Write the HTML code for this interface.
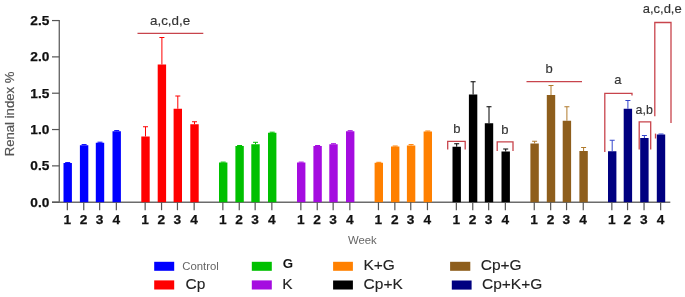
<!DOCTYPE html>
<html><head><meta charset="utf-8"><title>Renal index</title>
<style>
html,body{margin:0;padding:0;background:#fff;}
body{width:685px;height:297px;overflow:hidden;}
svg{display:block;filter:blur(0.55px);}
text{font-family:"Liberation Sans",Arial,sans-serif;}
.tl{font-size:13.7px;font-weight:bold;fill:#111;stroke:#111;stroke-width:0.25;}
.an{font-size:13px;fill:#333;stroke:#333;stroke-width:0.15;}
.lg{font-size:15.5px;fill:#222;stroke:#222;stroke-width:0.12;}
.sm{font-size:11.35px;fill:#666;}
</style></head><body>
<svg width="685" height="297" viewBox="0 0 685 297">
<rect width="685" height="297" fill="#fff"/>
<!-- axes -->
<path d="M59.3 20V202.2" stroke="#6c6c6c" stroke-width="1.4" fill="none"/>
<path d="M52 202.2H670.3" stroke="#6c6c6c" stroke-width="1.4" fill="none"/>
<path d="M52 202.20H59.3" stroke="#555" stroke-width="1.2"/>
<text x="49.3" y="206.55" class="tl" text-anchor="end">0.0</text>
<path d="M52 165.87H59.3" stroke="#555" stroke-width="1.2"/>
<text x="49.3" y="170.22" class="tl" text-anchor="end">0.5</text>
<path d="M52 129.54H59.3" stroke="#555" stroke-width="1.2"/>
<text x="49.3" y="133.89" class="tl" text-anchor="end">1.0</text>
<path d="M52 93.21H59.3" stroke="#555" stroke-width="1.2"/>
<text x="49.3" y="97.56" class="tl" text-anchor="end">1.5</text>
<path d="M52 56.88H59.3" stroke="#555" stroke-width="1.2"/>
<text x="49.3" y="61.23" class="tl" text-anchor="end">2.0</text>
<path d="M52 20.55H59.3" stroke="#555" stroke-width="1.2"/>
<text x="49.3" y="24.90" class="tl" text-anchor="end">2.5</text>
<text class="ylab" transform="translate(14.2 156.3) rotate(-90)" font-size="13.15" fill="#555" stroke="#555" stroke-width="0.2">Renal index %</text>
<rect x="63.50" y="163.00" width="8.4" height="39.20" fill="#0000ff"/>
<path d="M67.70 163.00V162.60M65.20 162.60H70.20" stroke="#0000ff" stroke-width="1.0" fill="none"/>
<path d="M67.35 202.2V210.2" stroke="#555" stroke-width="1.2"/>
<text x="67.20" y="224.2" class="tl" text-anchor="middle">1</text>
<rect x="79.90" y="145.25" width="8.4" height="56.95" fill="#0000ff"/>
<path d="M84.10 145.25V144.60M81.60 144.60H86.60" stroke="#0000ff" stroke-width="1.0" fill="none"/>
<path d="M83.75 202.2V210.2" stroke="#555" stroke-width="1.2"/>
<text x="83.60" y="224.2" class="tl" text-anchor="middle">2</text>
<rect x="95.80" y="142.75" width="8.4" height="59.45" fill="#0000ff"/>
<path d="M100.00 142.75V142.20M97.50 142.20H102.50" stroke="#0000ff" stroke-width="1.0" fill="none"/>
<path d="M99.65 202.2V210.2" stroke="#555" stroke-width="1.2"/>
<text x="99.50" y="224.2" class="tl" text-anchor="middle">3</text>
<rect x="112.50" y="131.25" width="8.4" height="70.95" fill="#0000ff"/>
<path d="M116.70 131.25V130.60M114.20 130.60H119.20" stroke="#0000ff" stroke-width="1.0" fill="none"/>
<path d="M116.35 202.2V210.2" stroke="#555" stroke-width="1.2"/>
<text x="116.20" y="224.2" class="tl" text-anchor="middle">4</text>
<rect x="141.30" y="136.50" width="8.4" height="65.70" fill="#ff0000"/>
<path d="M145.50 136.50V126.75M143.00 126.75H148.00" stroke="#ff0000" stroke-width="1.0" fill="none"/>
<path d="M145.15 202.2V210.2" stroke="#555" stroke-width="1.2"/>
<text x="145.00" y="224.2" class="tl" text-anchor="middle">1</text>
<rect x="157.70" y="64.50" width="8.4" height="137.70" fill="#ff0000"/>
<path d="M161.90 64.50V37.50M159.40 37.50H164.40" stroke="#ff0000" stroke-width="1.0" fill="none"/>
<path d="M161.55 202.2V210.2" stroke="#555" stroke-width="1.2"/>
<text x="161.40" y="224.2" class="tl" text-anchor="middle">2</text>
<rect x="173.60" y="108.75" width="8.4" height="93.45" fill="#ff0000"/>
<path d="M177.80 108.75V96.00M175.30 96.00H180.30" stroke="#ff0000" stroke-width="1.0" fill="none"/>
<path d="M177.45 202.2V210.2" stroke="#555" stroke-width="1.2"/>
<text x="177.30" y="224.2" class="tl" text-anchor="middle">3</text>
<rect x="190.30" y="124.25" width="8.4" height="77.95" fill="#ff0000"/>
<path d="M194.50 124.25V121.75M192.00 121.75H197.00" stroke="#ff0000" stroke-width="1.0" fill="none"/>
<path d="M194.15 202.2V210.2" stroke="#555" stroke-width="1.2"/>
<text x="194.00" y="224.2" class="tl" text-anchor="middle">4</text>
<rect x="219.00" y="162.50" width="8.4" height="39.70" fill="#00c000"/>
<path d="M223.20 162.50V162.10M220.70 162.10H225.70" stroke="#00c000" stroke-width="1.0" fill="none"/>
<path d="M222.85 202.2V210.2" stroke="#555" stroke-width="1.2"/>
<text x="222.70" y="224.2" class="tl" text-anchor="middle">1</text>
<rect x="235.40" y="146.00" width="8.4" height="56.20" fill="#00c000"/>
<path d="M239.60 146.00V145.50M237.10 145.50H242.10" stroke="#00c000" stroke-width="1.0" fill="none"/>
<path d="M239.25 202.2V210.2" stroke="#555" stroke-width="1.2"/>
<text x="239.10" y="224.2" class="tl" text-anchor="middle">2</text>
<rect x="251.30" y="144.25" width="8.4" height="57.95" fill="#00c000"/>
<path d="M255.50 144.25V142.30M253.00 142.30H258.00" stroke="#00c000" stroke-width="1.0" fill="none"/>
<path d="M255.15 202.2V210.2" stroke="#555" stroke-width="1.2"/>
<text x="255.00" y="224.2" class="tl" text-anchor="middle">3</text>
<rect x="268.00" y="132.75" width="8.4" height="69.45" fill="#00c000"/>
<path d="M272.20 132.75V132.20M269.70 132.20H274.70" stroke="#00c000" stroke-width="1.0" fill="none"/>
<path d="M271.85 202.2V210.2" stroke="#555" stroke-width="1.2"/>
<text x="271.70" y="224.2" class="tl" text-anchor="middle">4</text>
<rect x="297.00" y="162.50" width="8.4" height="39.70" fill="#a50ce0"/>
<path d="M301.20 162.50V162.10M298.70 162.10H303.70" stroke="#a50ce0" stroke-width="1.0" fill="none"/>
<path d="M300.85 202.2V210.2" stroke="#555" stroke-width="1.2"/>
<text x="300.70" y="224.2" class="tl" text-anchor="middle">1</text>
<rect x="313.40" y="146.00" width="8.4" height="56.20" fill="#a50ce0"/>
<path d="M317.60 146.00V145.50M315.10 145.50H320.10" stroke="#a50ce0" stroke-width="1.0" fill="none"/>
<path d="M317.25 202.2V210.2" stroke="#555" stroke-width="1.2"/>
<text x="317.10" y="224.2" class="tl" text-anchor="middle">2</text>
<rect x="329.30" y="144.25" width="8.4" height="57.95" fill="#a50ce0"/>
<path d="M333.50 144.25V143.70M331.00 143.70H336.00" stroke="#a50ce0" stroke-width="1.0" fill="none"/>
<path d="M333.15 202.2V210.2" stroke="#555" stroke-width="1.2"/>
<text x="333.00" y="224.2" class="tl" text-anchor="middle">3</text>
<rect x="346.00" y="131.25" width="8.4" height="70.95" fill="#a50ce0"/>
<path d="M350.20 131.25V130.70M347.70 130.70H352.70" stroke="#a50ce0" stroke-width="1.0" fill="none"/>
<path d="M349.85 202.2V210.2" stroke="#555" stroke-width="1.2"/>
<text x="349.70" y="224.2" class="tl" text-anchor="middle">4</text>
<rect x="374.60" y="162.75" width="8.4" height="39.45" fill="#ff8000"/>
<path d="M378.80 162.75V162.30M376.30 162.30H381.30" stroke="#ff8000" stroke-width="1.0" fill="none"/>
<path d="M378.45 202.2V210.2" stroke="#555" stroke-width="1.2"/>
<text x="378.30" y="224.2" class="tl" text-anchor="middle">1</text>
<rect x="391.00" y="146.50" width="8.4" height="55.70" fill="#ff8000"/>
<path d="M395.20 146.50V146.00M392.70 146.00H397.70" stroke="#ff8000" stroke-width="1.0" fill="none"/>
<path d="M394.85 202.2V210.2" stroke="#555" stroke-width="1.2"/>
<text x="394.70" y="224.2" class="tl" text-anchor="middle">2</text>
<rect x="406.90" y="145.50" width="8.4" height="56.70" fill="#ff8000"/>
<path d="M411.10 145.50V144.60M408.60 144.60H413.60" stroke="#ff8000" stroke-width="1.0" fill="none"/>
<path d="M410.75 202.2V210.2" stroke="#555" stroke-width="1.2"/>
<text x="410.60" y="224.2" class="tl" text-anchor="middle">3</text>
<rect x="423.60" y="131.50" width="8.4" height="70.70" fill="#ff8000"/>
<path d="M427.80 131.50V131.00M425.30 131.00H430.30" stroke="#ff8000" stroke-width="1.0" fill="none"/>
<path d="M427.45 202.2V210.2" stroke="#555" stroke-width="1.2"/>
<text x="427.30" y="224.2" class="tl" text-anchor="middle">4</text>
<rect x="452.50" y="146.75" width="8.4" height="55.45" fill="#000000"/>
<path d="M456.70 146.75V143.75M454.20 143.75H459.20" stroke="#000000" stroke-width="1.0" fill="none"/>
<path d="M456.35 202.2V210.2" stroke="#555" stroke-width="1.2"/>
<text x="456.20" y="224.2" class="tl" text-anchor="middle">1</text>
<rect x="468.90" y="94.50" width="8.4" height="107.70" fill="#000000"/>
<path d="M473.10 94.50V81.75M470.60 81.75H475.60" stroke="#000000" stroke-width="1.0" fill="none"/>
<path d="M472.75 202.2V210.2" stroke="#555" stroke-width="1.2"/>
<text x="472.60" y="224.2" class="tl" text-anchor="middle">2</text>
<rect x="484.80" y="123.25" width="8.4" height="78.95" fill="#000000"/>
<path d="M489.00 123.25V106.75M486.50 106.75H491.50" stroke="#000000" stroke-width="1.0" fill="none"/>
<path d="M488.65 202.2V210.2" stroke="#555" stroke-width="1.2"/>
<text x="488.50" y="224.2" class="tl" text-anchor="middle">3</text>
<rect x="501.50" y="151.50" width="8.4" height="50.70" fill="#000000"/>
<path d="M505.70 151.50V149.00M503.20 149.00H508.20" stroke="#000000" stroke-width="1.0" fill="none"/>
<path d="M505.35 202.2V210.2" stroke="#555" stroke-width="1.2"/>
<text x="505.20" y="224.2" class="tl" text-anchor="middle">4</text>
<rect x="530.40" y="143.50" width="8.4" height="58.70" fill="#8e5e1c"/>
<path d="M534.60 143.50V141.25M532.10 141.25H537.10" stroke="#b07a2c" stroke-width="1.0" fill="none"/>
<path d="M534.25 202.2V210.2" stroke="#555" stroke-width="1.2"/>
<text x="534.10" y="224.2" class="tl" text-anchor="middle">1</text>
<rect x="546.80" y="95.00" width="8.4" height="107.20" fill="#8e5e1c"/>
<path d="M551.00 95.00V85.50M548.50 85.50H553.50" stroke="#b07a2c" stroke-width="1.0" fill="none"/>
<path d="M550.65 202.2V210.2" stroke="#555" stroke-width="1.2"/>
<text x="550.50" y="224.2" class="tl" text-anchor="middle">2</text>
<rect x="562.70" y="120.75" width="8.4" height="81.45" fill="#8e5e1c"/>
<path d="M566.90 120.75V106.75M564.40 106.75H569.40" stroke="#b07a2c" stroke-width="1.0" fill="none"/>
<path d="M566.55 202.2V210.2" stroke="#555" stroke-width="1.2"/>
<text x="566.40" y="224.2" class="tl" text-anchor="middle">3</text>
<rect x="579.40" y="151.00" width="8.4" height="51.20" fill="#8e5e1c"/>
<path d="M583.60 151.00V147.50M581.10 147.50H586.10" stroke="#b07a2c" stroke-width="1.0" fill="none"/>
<path d="M583.25 202.2V210.2" stroke="#555" stroke-width="1.2"/>
<text x="583.10" y="224.2" class="tl" text-anchor="middle">4</text>
<rect x="608.00" y="151.25" width="8.4" height="50.95" fill="#000080"/>
<path d="M612.20 151.25V140.25M609.70 140.25H614.70" stroke="#3344cc" stroke-width="1.0" fill="none"/>
<path d="M611.85 202.2V210.2" stroke="#555" stroke-width="1.2"/>
<text x="611.70" y="224.2" class="tl" text-anchor="middle">1</text>
<rect x="623.70" y="108.75" width="8.4" height="93.45" fill="#000080"/>
<path d="M627.90 108.75V100.50M625.40 100.50H630.40" stroke="#3344cc" stroke-width="1.0" fill="none"/>
<path d="M627.55 202.2V210.2" stroke="#555" stroke-width="1.2"/>
<text x="627.40" y="224.2" class="tl" text-anchor="middle">2</text>
<rect x="640.20" y="138.00" width="8.4" height="64.20" fill="#000080"/>
<path d="M644.40 138.00V135.50M641.90 135.50H646.90" stroke="#3344cc" stroke-width="1.0" fill="none"/>
<path d="M644.05 202.2V210.2" stroke="#555" stroke-width="1.2"/>
<text x="643.90" y="224.2" class="tl" text-anchor="middle">3</text>
<rect x="656.80" y="134.50" width="8.4" height="67.70" fill="#000080"/>
<path d="M661.00 134.50V134.00M658.50 134.00H663.50" stroke="#3344cc" stroke-width="1.0" fill="none"/>
<path d="M660.65 202.2V210.2" stroke="#555" stroke-width="1.2"/>
<text x="660.50" y="224.2" class="tl" text-anchor="middle">4</text>
<!-- annotations -->
<g stroke="#c8444c" stroke-width="1.3" fill="none">
<path d="M137.5 33.3H203.3"/>
<path d="M447.7 149.5V141.4H465.2V149.5"/>
<path d="M497.2 151V141.8H513V151"/>
<path d="M526.5 81.6H582"/>
<path d="M604.8 152V93.3H632V95.5"/>
<path d="M639.2 149.5V121.8H650.7V149.5"/>
<path d="M654.8 116.3V22.5H671V123"/>
<path d="M655.5 133.6V138.5"/>
</g>
<text class="an" x="150" y="25.2" style="font-size:13.4px">a,c,d,e</text>
<text class="an" x="453.2" y="132.8">b</text>
<text class="an" x="501.2" y="134.2">b</text>
<text class="an" x="545.6" y="73">b</text>
<text class="an" x="614.3" y="84.2">a</text>
<text class="an" x="635.6" y="113.8" textLength="17.2" lengthAdjust="spacingAndGlyphs">a,b</text>
<text class="an" x="642.7" y="13.2">a,c,d,e</text>
<text class="sm" x="348" y="244">Week</text>
<!-- legend -->
<rect x="154.2" y="261.8" width="20" height="9" fill="#0000ff"/>
<rect x="154.2" y="280.4" width="20" height="9.1" fill="#ff0000"/>
<rect x="251.8" y="261.8" width="20" height="9" fill="#00c000"/>
<rect x="251.8" y="280.4" width="20" height="9.1" fill="#a50ce0"/>
<rect x="333.1" y="261.8" width="19.8" height="9" fill="#ff8000"/>
<rect x="333.1" y="280.5" width="19.8" height="9" fill="#000"/>
<rect x="450.1" y="261.8" width="20.2" height="9" fill="#8e5e1c"/>
<rect x="451.8" y="280.5" width="19.8" height="9.1" fill="#000080"/>
<text class="sm" x="182.3" y="270">Control</text>
<text class="lg" x="185.5" y="289.1">Cp</text>
<text x="282.8" y="268.1" font-size="13.3" font-weight="bold" fill="#111">G</text>
<text class="lg" x="282.2" y="289.1">K</text>
<text class="lg" x="363.4" y="270.4">K+G</text>
<text class="lg" x="363.6" y="289.1">Cp+K</text>
<text class="lg" x="480.7" y="270.4">Cp+G</text>
<text class="lg" x="482" y="289.1">Cp+K+G</text>
</svg>
</body></html>
